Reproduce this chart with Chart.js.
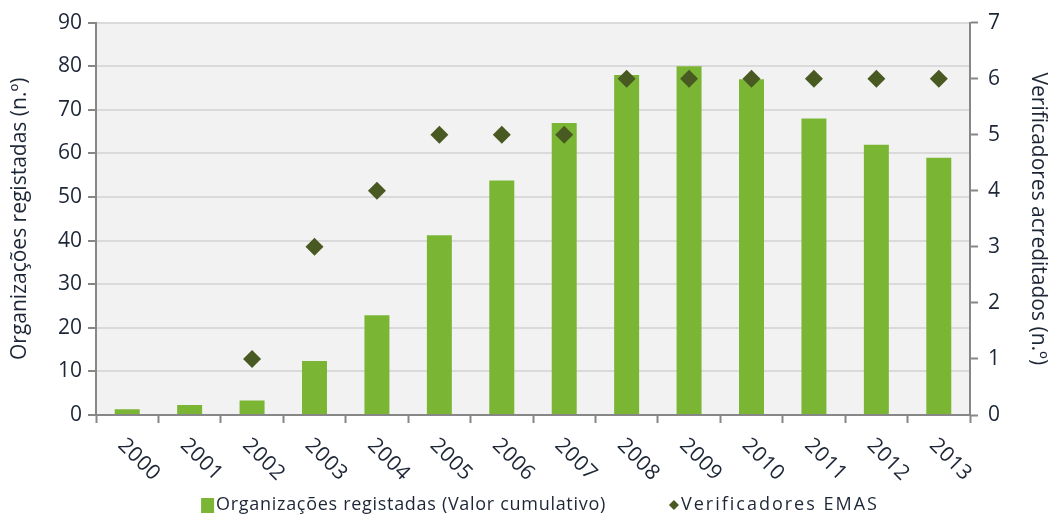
<!DOCTYPE html>
<html>
<head>
<meta charset="utf-8">
<script src="https://cdn.jsdelivr.net/npm/chart.js@4"></script>
<style>
  html, body { margin: 0; padding: 0; background: #fff; }
  #caixa { width: 1055px; height: 515px; }
</style>
</head>
<body>
<div id="caixa"><canvas id="graficoEmas" width="1055" height="515"></canvas></div>
<script>
// dados
const anos = ['2000', '2001', '2002', '2003', '2004', '2005', '2006', '2007', '2008', '2009', '2010', '2011', '2012', '2013']
const organizacoes = [1.3, 2.3, 3.3, 12.4, 22.9, 41.2, 53.8, 67, 78, 80, 77, 68, 62, 59]
const verificadores = [null, null, 1, 3, 4, 5, 5, 5, 6, 6, 6, 6, 6, 6]
const eixoEsq = { min: 0, max: 90, passo: 10 }
const eixoDir = { min: 0, max: 7, passo: 1 }

const corTexto = '#1d2636'
const corEixo = '#878787'
const fonte = '"Open Sans"'

// fundo cinzento da área do gráfico
const fundo = {
    id: 'fundo',
    beforeDraw(chart) {
        const { ctx, chartArea: a } = chart
        ctx.save()
        ctx.fillStyle = '#f2f2f2'
        ctx.fillRect(a.left, a.top, a.right - a.left, a.bottom - a.top)
        ctx.restore()
    }
}

// anos rodados a 45° (para baixo e para a direita)
const rotulosX = {
    id: 'rotulosX',
    afterDraw(chart) {
        const { ctx, chartArea: a } = chart
        const x = chart.scales.x
        ctx.save()
        ctx.font = '21px ' + fonte
        ctx.letterSpacing = '0.5px'
        ctx.fillStyle = corTexto
        ctx.textAlign = 'left'
        ctx.textBaseline = 'middle'
        chart.data.labels.forEach((ano, i) => {
            ctx.save()
            ctx.translate(x.getPixelForTick(i) - 6, a.bottom + 27)
            ctx.rotate(Math.PI / 4)
            ctx.fillText(ano, 0, 0)
            ctx.restore()
        })
        ctx.restore()
    }
}

// legenda desenhada à mão (quadrado e losango de tamanhos diferentes)
const legenda = {
    id: 'legenda',
    afterDraw(chart) {
        const ctx = chart.ctx
        const ds = chart.data.datasets
        ctx.save()
        ctx.font = '18px ' + fonte
        ctx.textBaseline = 'middle'
        ctx.textAlign = 'left'
        const y = 505
        const gap = 63
        ctx.letterSpacing = '0.7px'
        const w0 = 15 + ctx.measureText(ds[0].label).width
        ctx.letterSpacing = '2px'
        const w1 = 12 + ctx.measureText(ds[1].label).width
        let x = 540 - (w0 + gap + w1) / 2
        ctx.fillStyle = ds[0].backgroundColor
        ctx.fillRect(x, y - 7, 13, 15)
        ctx.fillStyle = corTexto
        ctx.letterSpacing = '0.7px'
        ctx.fillText(ds[0].label, x + 15, y)
        x += w0 + gap
        ctx.fillStyle = ds[1].backgroundColor
        ctx.beginPath()
        ctx.moveTo(x + 5, y - 5)
        ctx.lineTo(x + 10, y)
        ctx.lineTo(x + 5, y + 5)
        ctx.lineTo(x, y)
        ctx.closePath()
        ctx.fill()
        ctx.fillStyle = corTexto
        ctx.letterSpacing = '2px'
        ctx.fillText(ds[1].label, x + 12, y)
        ctx.restore()
    }
}

const data = {
    labels: anos,
    datasets: [{
        type: 'bar',
        label: 'Organizações registadas (Valor cumulativo)',
        data: organizacoes,
        backgroundColor: '#7ab533',
        yAxisID: 'y',
        barPercentage: 0.4,
        categoryPercentage: 1,
        order: 1
    }, {
        type: 'line',
        label: 'Verificadores EMAS',
        data: verificadores,
        showLine: false,
        pointStyle: 'rectRot',
        pointRadius: 9,
        pointHoverRadius: 9,
        backgroundColor: '#485a22',
        borderColor: '#485a22',
        borderWidth: 0,
        yAxisID: 'y1',
        order: 0
    }]
}

const config = {
    type: 'bar',
    data: data,
    plugins: [fundo, rotulosX, legenda],
    options: {
        responsive: false,
        animation: false,
        layout: { padding: { top: 22, bottom: 35, left: 0, right: 0 } },
        plugins: { legend: { display: false }, tooltip: { enabled: false } },
        scales: {
            x: {
                offset: true,
                grid: { offset: true, drawOnChartArea: false, tickLength: 8, tickColor: corEixo, tickWidth: 2 },
                border: { color: corEixo, width: 2 },
                ticks: { display: false },
                afterFit: (s) => { s.height = 65 }
            },
            y: {
                position: 'left',
                min: eixoEsq.min,
                max: eixoEsq.max,
                ticks: { stepSize: eixoEsq.passo, color: corTexto, font: { family: fonte, size: 21 }, padding: 6 },
                grid: { color: '#dadada', lineWidth: 2, tickLength: 8, tickColor: corEixo, tickWidth: 2 },
                border: { color: corEixo, width: 2 },
                title: { display: true, text: 'Organizações registadas (n.º)', color: corTexto, font: { family: fonte, size: 21 }, padding: { top: 7, bottom: 0 } },
                afterFit: (s) => { s.width = 96 }
            },
            y1: {
                position: 'right',
                min: eixoDir.min,
                max: eixoDir.max,
                ticks: { stepSize: eixoDir.passo, color: corTexto, font: { family: fonte, size: 21 }, padding: 10 },
                grid: { drawOnChartArea: false, tickLength: 8, tickColor: corEixo, tickWidth: 2 },
                border: { color: corEixo, width: 2 },
                title: { display: true, text: 'Verificadores acreditados (n.º)', color: corTexto, font: { family: fonte, size: 21 }, padding: { top: 4, bottom: 0 } },
                afterFit: (s) => { s.width = 85 }
            }
        }
    }
}

const ctxEmas = document.getElementById('graficoEmas')

new Chart(ctxEmas, config)
</script>
</body>
</html>
